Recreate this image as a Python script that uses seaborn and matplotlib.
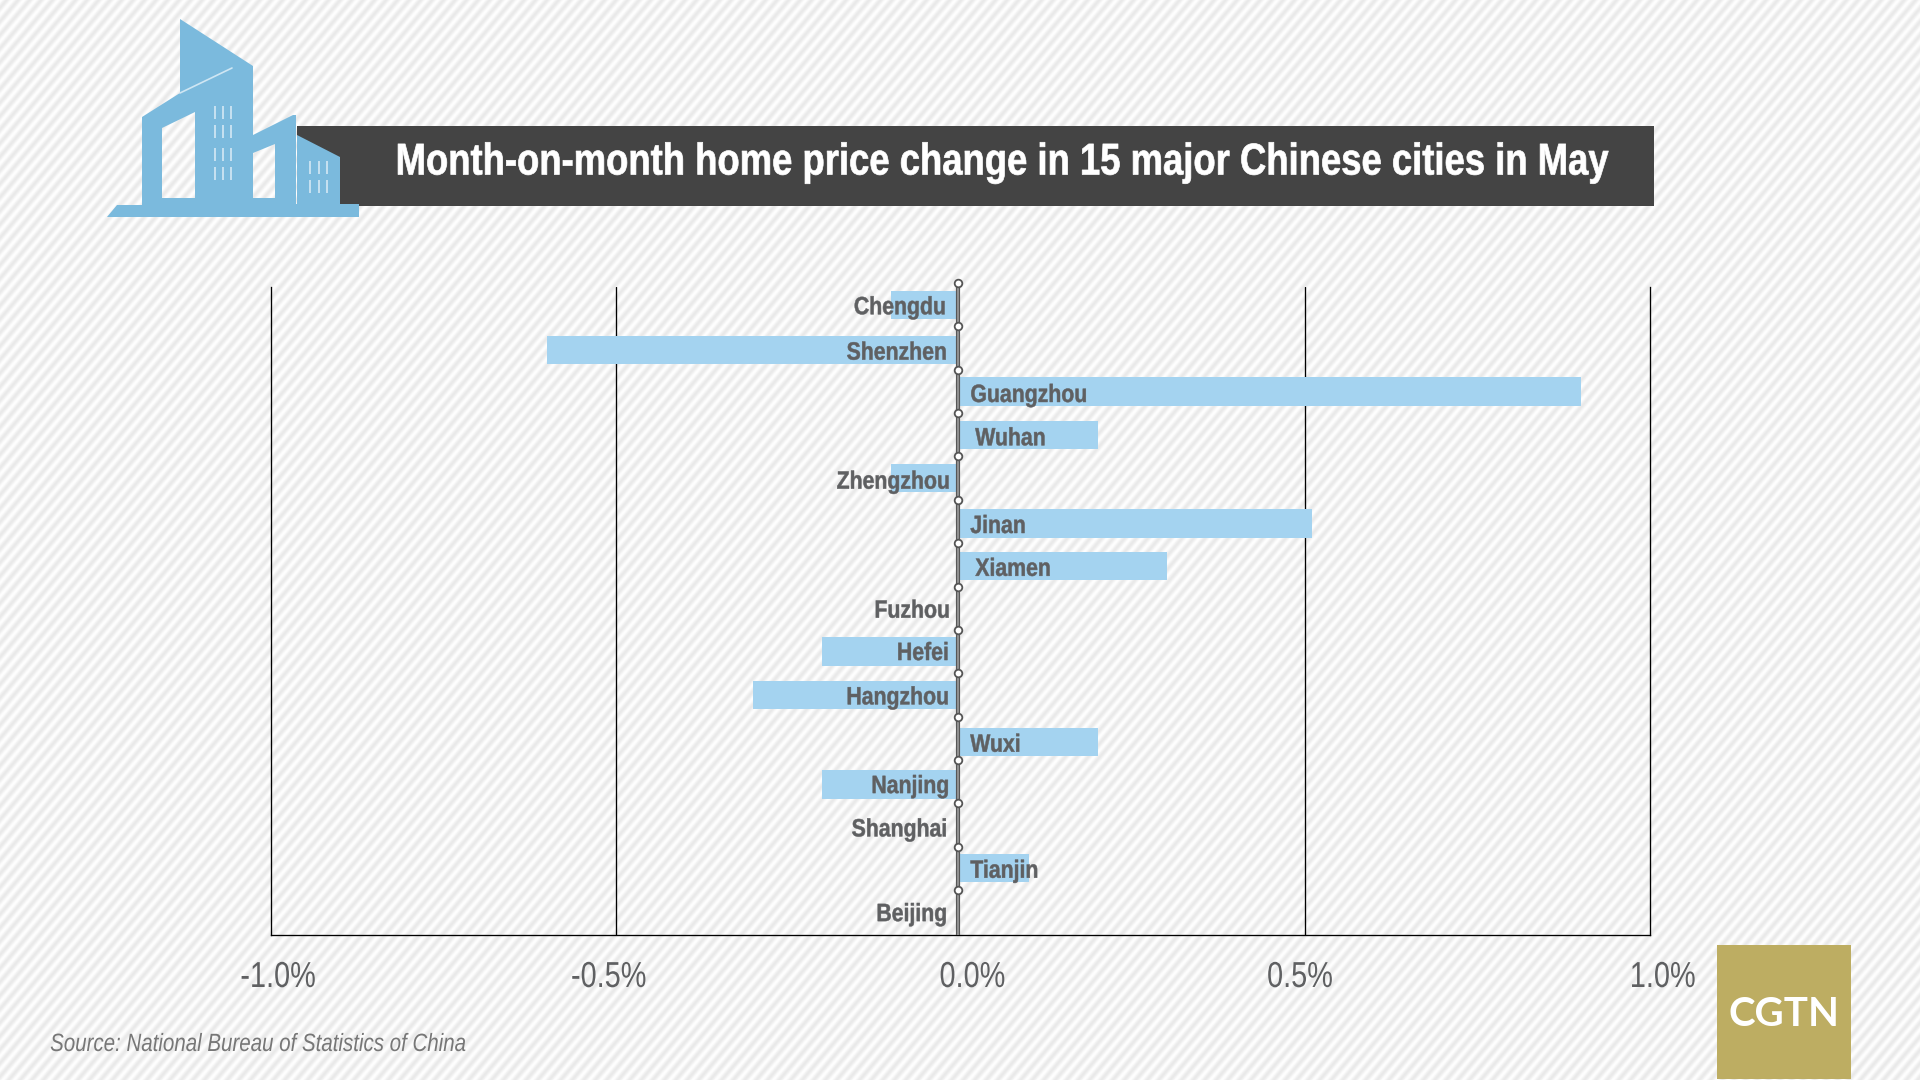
import numpy as np
import matplotlib.pyplot as plt
from matplotlib.patches import PathPatch, Rectangle
from matplotlib.patheffects import AbstractPathEffect
from matplotlib.path import Path
from matplotlib.transforms import Affine2D, ScaledTranslation
import seaborn as sns

# Data, top to bottom
cities = ["Chengdu", "Shenzhen", "Guangzhou", "Wuhan", "Zhengzhou", "Jinan", "Xiamen", "Fuzhou",
          "Hefei", "Hangzhou", "Wuxi", "Nanjing", "Shanghai", "Tianjin", "Beijing"]
changes = [-0.1, -0.6, 0.9, 0.2, -0.1, 0.51, 0.3, 0.0, -0.2, -0.3, 0.2, -0.2, 0.0, 0.1, 0.0]
tick_values = [-1.0, -0.5, 0.0, 0.5, 1.0]
tick_labels = ["-1.0%", "-0.5%", "0.0%", "0.5%", "1.0%"]

title = "Month-on-month home price change in 15 major Chinese cities in May"
source = "Source: National Bureau of Statistics of China"

W, H = 1920, 1080
FONT = ["Liberation Sans", "DejaVu Sans"]
BUILDING = "#7bbadd"
BAR = "#a4d3f0"
TEXT = "#5f6062"


class Squeeze(AbstractPathEffect):
    # the reference text is a horizontally squeezed Arial, no narrow font is installed
    def __init__(self, sx, anchor=0.5, stroke=0):
        super().__init__()
        self.sx = sx
        self.anchor = anchor
        self.stroke = stroke

    def draw_path(self, renderer, gc, tpath, affine, rgbFace=None):
        ext = tpath.get_extents()
        x0 = ext.x0 + self.anchor * (ext.x1 - ext.x0)
        squeeze = Affine2D().translate(-x0, 0).scale(self.sx, 1).translate(x0, 0)
        if self.stroke:
            gc.set_foreground(rgbFace)
            gc.set_linewidth(self.stroke)
        renderer.draw_path(gc, tpath, squeeze + affine, rgbFace)


def px(x, y):
    # figure fractions from picture pixels
    return x / W, 1 - y / H


def axes_box(left, top, right, bottom):
    return [left / W, 1 - bottom / H, (right - left) / W, (bottom - top) / H]


def background(ax):
    # diagonal stripes over the whole picture
    yy, xx = np.mgrid[0:H, 0:W]
    phase = ((xx + yy * 0.85) % 11.5) / 11.5
    img = 0.953 + 0.04 * np.cos(2 * np.pi * phase)
    ax.imshow(img, cmap="gray", vmin=0, vmax=1, extent=(0, W, H, 0), aspect="auto", interpolation="bilinear")


def building(ax):
    outer = [(107, 217), (117, 205), (142, 205), (142, 117), (180, 93), (180, 19), (253, 66), (253, 135),
             (293, 115), (296, 115), (296, 204), (297, 204), (297, 135), (340, 157), (340, 204), (359, 204),
             (359, 217), (107, 217)]
    # holes run the other way round so they stay open
    hole_a = [(162, 128), (162, 198), (195, 198), (195, 112), (162, 128)]
    hole_b = [(253, 153), (253, 198), (275, 198), (275, 144), (253, 153)]
    verts, codes = [], []
    for ring in (outer, hole_a, hole_b):
        verts += ring
        codes += [Path.MOVETO] + [Path.LINETO] * (len(ring) - 2) + [Path.CLOSEPOLY]
    ax.add_patch(PathPatch(Path(verts, codes), fc=BUILDING, ec="none", zorder=3))
    # roof crease and small windows
    ax.plot([180, 232], [93, 68], color="#cfe6f3", lw=1.2, zorder=4)
    for wx in (214, 222, 230):
        for wy in (106, 125, 148, 167):
            ax.add_patch(Rectangle((wx, wy), 2, 13, fc="#c5e0f0", ec="none", zorder=4))
    for wx in (309, 318, 326):
        for wy in (161, 180):
            ax.add_patch(Rectangle((wx, wy), 2, 13, fc="#c5e0f0", ec="none", zorder=4))


def main():
    sns.set_style("ticks")
    plt.rcParams["font.family"] = FONT

    fig = plt.figure(figsize=(W / 100, H / 100), dpi=100)

    # Full picture layer for the decoration
    bg = fig.add_axes([0, 0, 1, 1], zorder=0)
    background(bg)
    bg.add_patch(Rectangle((297, 126), 1357, 80, fc="#444444", ec="none", zorder=2))
    building(bg)
    bg.add_patch(Rectangle((1717, 945), 134, 134, fc="#bdad62", ec="none", zorder=2))
    bg.set_xlim(0, W)
    bg.set_ylim(H, 0)
    bg.axis("off")

    # Chart
    ax = fig.add_axes(axes_box(271, 287, 1649.5, 935), zorder=1)
    ax.patch.set_alpha(0)
    sns.barplot(x=changes, y=cities, order=cities, color=BAR, saturation=1, width=0.65, linewidth=0, ax=ax, zorder=1)
    ax.set_xlim(-1.0, 1.0)
    ax.set_ylim(14.54, -0.41)
    ax.set_ylabel("")
    ax.set_xlabel("")

    ax.spines["top"].set_visible(False)
    for spine in ("left", "right", "bottom"):
        ax.spines[spine].set_linewidth(0.95)
        ax.spines[spine].set_color("black")
    ax.tick_params(left=False, bottom=False, labelleft=False)

    ax.set_xticks(tick_values)
    ax.set_xticklabels(tick_labels, fontsize=26, color=TEXT)
    ax.tick_params(axis="x", pad=14.5)
    nudges = [7, -7, 12, -5, 13]
    for lab, dx in zip(ax.get_xticklabels(), nudges):
        lab.set_transform(lab.get_transform() + ScaledTranslation(dx / 100, 0, fig.dpi_scale_trans))
        lab.set_path_effects([Squeeze(0.8)])
    for v in (-0.5, 0.5):
        ax.axvline(v, color="black", lw=0.95, zorder=0)

    # Rows are not evenly spaced in the reference, small pixel corrections
    row_shift = {"Shenzhen": 2, "Jinan": 2, "Xiamen": 1.5, "Wuxi": 4, "Nanjing": 3}
    for bar, city in zip(ax.patches, cities):
        bar.set_y(bar.get_y() + row_shift.get(city, 0) / 43.4)

    # Gray zero line with its small ring markers
    zero = -2.5 / 689.5
    ax.plot([zero, zero], [-0.5, 14.54], color="#555555", lw=3, zorder=3, clip_on=False, solid_capstyle="butt")
    ax.plot([zero, zero], [-0.5, 14.54], color="#909090", lw=1.5, zorder=3.1, clip_on=False, solid_capstyle="butt")
    ax.plot([zero] * 15, np.arange(15) - 0.5, ls="none", marker="o", ms=5.5, mfc="white", mec="#555555",
            mew=1.3, zorder=4, clip_on=False)

    # City names sit next to the zero line
    shift_x = {"Wuhan": 5, "Xiamen": 5, "Chengdu": -3, "Shenzhen": -2, "Shanghai": -2, "Beijing": -2,
               "Zhengzhou": 1, "Fuzhou": 1}
    shift_y = {"Guangzhou": 1, "Wuhan": 1, "Zhengzhou": 1, "Hefei": -1, "Nanjing": -1, "Shanghai": 2}
    for i, (city, val) in enumerate(zip(cities, changes)):
        offs = 10 if val > 0 else -11
        offs += shift_x.get(city, 0)
        dy = row_shift.get(city, 0) + shift_y.get(city, 0)
        side = "left" if val > 0 else "right"
        t = ax.annotate(city, (0, i), xytext=(offs * 0.72, -dy * 0.72), textcoords="offset points", ha=side,
                        va="center_baseline", fontsize=18, fontweight="bold", color=TEXT, zorder=5)
        t.set_path_effects([Squeeze(0.85, 0 if val > 0 else 1, stroke=0.35)])

    # Title, source and logo text
    tx, ty = px(1003, 163)
    t = fig.text(tx, ty, title, color="white", fontsize=32, fontweight="bold", ha="center", va="center", zorder=5)
    t.set_path_effects([Squeeze(0.82, stroke=0.5)])
    sx, sy = px(50, 1044)
    t = fig.text(sx, sy, source, color="#777777", fontsize=18, style="italic", ha="left", va="center", zorder=5)
    t.set_path_effects([Squeeze(0.82, 0)])
    lx, ly = px(1784, 1015)
    fig.text(lx, ly, "CGTN", color="white", fontsize=29, fontweight="bold", family=["Lato", "DejaVu Sans"],
             ha="center", va="center", zorder=5)

    fig.savefig("out.png", dpi=100)


if __name__ == '__main__':
    main()
